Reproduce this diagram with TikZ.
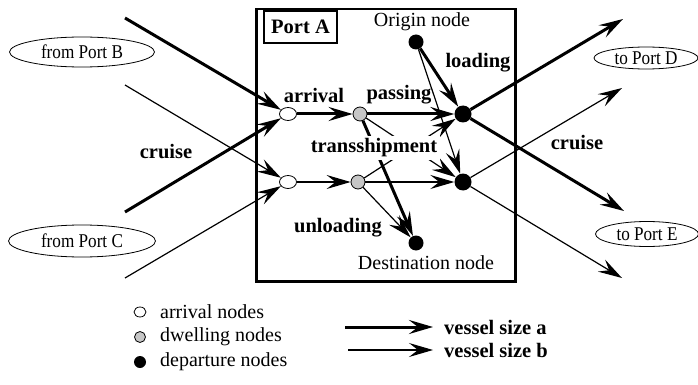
\documentclass[tikz,border=0pt]{standalone}
\usepackage{fontspec}
\setmainfont{Liberation Serif}
\newfontfamily\condfont[FakeStretch=0.88]{Liberation Serif}
\usetikzlibrary{arrows.meta,shapes.geometric}
\begin{document}
\begin{tikzpicture}[x=1pt,y=-1pt,
  lbl/.style={font=\fontsize{20.5}{22}\selectfont\bfseries, inner sep=1pt},
  txt/.style={font=\fontsize{20}{22}\selectfont, inner sep=1pt},
  port/.style={draw, ellipse, line width=0.8pt, font=\condfont\fontsize{19.5}{21}\selectfont, inner sep=0pt},
  arrnode/.style={draw, ellipse, fill=white, minimum width=17pt, minimum height=13pt, inner sep=0pt, line width=0.8pt},
  dwnode/.style={draw, circle, fill=gray!45, minimum size=14pt, inner sep=0pt, line width=0.8pt},
  depnode/.style={circle, fill=black, minimum size=17pt, inner sep=0pt},
  odnode/.style={circle, fill=black, minimum size=15pt, inner sep=0pt},
  tipshape/.style={-{Stealth[length=24pt,width=14pt,inset=9pt]}},
  sizea/.style={line width=3pt, tipshape},
  sizeb/.style={line width=1.2pt, tipshape},
]
\useasboundingbox (0,0) rectangle (698,385);
% port box
\node[draw, line width=2.5pt, minimum width=259pt, minimum height=272pt, anchor=north west, inner sep=0pt] (portbox) at (255,8) {};
\node[draw, line width=1.2pt, lbl, minimum width=73pt, minimum height=32pt] (portlbl) at (300.5,27) {Port A};

% external ports
\node[port, minimum width=145pt, minimum height=30pt] (pb) at (82,52) {from Port B};
\node[port, minimum width=147pt, minimum height=32pt] (pc) at (82,241) {from Port C};
\node[port, minimum width=104pt, minimum height=22pt] (pd) at (646,58) {to Port D};
\node[port, minimum width=103pt, minimum height=25pt] (pe) at (647,234) {to Port E};

% free ends
\coordinate (inB1) at (125,18);
\coordinate (inB2) at (125,85);
\coordinate (inC1) at (125,212);
\coordinate (inC2) at (125,278);
\coordinate (outD1) at (623,19);
\coordinate (outD2) at (622,88);
\coordinate (outE1) at (624,211);
\coordinate (outE2) at (622,278);

% network nodes
\node[arrnode] (a1) at (288,114) {};
\node[arrnode] (a2) at (288,182) {};
\node[dwnode] (d1) at (360,114) {};
\node[dwnode] (d2) at (358,182) {};
\node[depnode] (p1) at (463,114) {};
\node[depnode] (p2) at (463,182) {};
\node[odnode] (orig) at (416,42) {};
\node[odnode] (dest) at (416,243) {};

% incoming
\draw[sizea] (inB1) -- (a1);
\draw[sizeb] (inB2) -- (a2);
\draw[sizea] (inC1) -- (a1);
\draw[sizeb] (inC2) -- (a2);
% inside
\draw[sizea] (a1) -- (d1);
\draw[sizeb] (a2) -- (d2);
\draw[sizea] (d1) -- (p1);
\draw[sizeb] (d2) -- (p2);
\draw[sizeb] (d1) -- (p2);
\draw[sizeb] (d2) -- (p1);
\draw[sizea] (d1) -- (dest);
\draw[sizeb] (d2) -- (dest);
\draw[sizea] (orig) -- (p1);
\draw[sizeb] (orig) -- (p2);
% outgoing
\draw[sizea] (p1) -- (outD1);
\draw[sizeb] (p2) -- (outD2);
\draw[sizea] (p1) -- (outE1);
\draw[sizeb] (p2) -- (outE2);

% labels
\node[txt] (origlbl) at (422,22) {Origin node};
\node[txt] (destlbl) at (426,263) {Destination node};
\node[lbl] (arrlbl) at (314,95) {arrival};
\node[lbl] (paslbl) at (399,95) {passing};
\node[lbl, fill=white, inner sep=3pt] (trlbl) at (374,148) {transshipment};
\node[lbl] (unllbl) at (338,228) {unloading};
\node[lbl] (loadlbl) at (478,63) {loading};
\node[lbl] (cr1) at (166,152) {cruise};
\node[lbl] (cr2) at (577,143) {cruise};

% legend
\node[arrnode, minimum width=12pt, minimum height=10pt] (la) at (140,312) {};
\node[dwnode, minimum size=11pt] (lw) at (140,337) {};
\node[odnode, minimum size=12pt] (ld) at (140,362) {};
\node[txt, anchor=west] (lat) at (159,312) {arrival nodes};
\node[txt, anchor=west] (lwt) at (159,337) {dwelling nodes};
\node[txt, anchor=west] (ldt) at (159,362) {departure nodes};

\coordinate (va1) at (345,327);
\coordinate (va2) at (433,327);
\coordinate (vb1) at (348,350);
\coordinate (vb2) at (433,350);
\draw[sizea] (va1) -- (va2);
\draw[sizeb] (vb1) -- (vb2);
\node[lbl, anchor=west] (vat) at (443,327) {vessel size a};
\node[lbl, anchor=west] (vbt) at (443,350) {vessel size b};
\end{tikzpicture}
\end{document}
